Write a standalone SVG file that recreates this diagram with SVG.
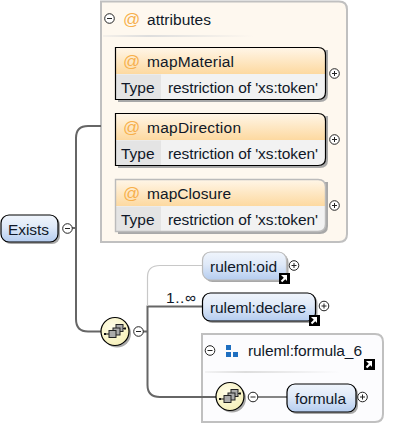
<svg xmlns="http://www.w3.org/2000/svg" xmlns:xlink="http://www.w3.org/1999/xlink" width="400" height="424" viewBox="0 0 400 424">
<style>
text{font-family:"Liberation Sans",Arial,sans-serif;font-size:15.500px;fill:#101828}
.conn{fill:none;stroke:#666;stroke-width:2}
.thin{fill:none;stroke:#666;stroke-width:1.600}
.opt{fill:none;stroke:#c8c8c8;stroke-width:1.200}
.sign{fill:#fff;stroke:#222;stroke-width:1}
.signl{stroke:#222;stroke-width:1;fill:none}
.at{fill:#f7b04c;font-size:17px}
.shadow{fill:#a8a8a8}
.blue{fill:url(#b);stroke:#000;stroke-width:1.200}
.bluel{fill:url(#b);stroke:#bbb;stroke-width:1.200}
.hdr{fill:url(#o)}
.row{fill:#f2f2f2}
.typ{fill:#e4e4e4}
.outline{fill:none;stroke:#000;stroke-width:1.200}
.outlinel{fill:none;stroke:#bbb;stroke-width:1.400}
.comp{fill:url(#y);stroke:#000;stroke-width:1.200}
.sq{fill:#aaa;stroke:#222;stroke-width:1}
.panel{fill:#fef8ef;stroke:#c0c0c0;stroke-width:2}
.panel2{fill:#fcfcfe;stroke:#c0c0c0;stroke-width:2}
</style>
<defs>
<linearGradient id="b" x1="0" y1="0" x2="0" y2="1"><stop offset="0" stop-color="#f0f5fc"/><stop offset="0.450" stop-color="#dfe9f8"/><stop offset="1" stop-color="#b4ccef"/></linearGradient>
<linearGradient id="o" x1="0" y1="0" x2="0" y2="1"><stop offset="0" stop-color="#fff6e8"/><stop offset="1" stop-color="#fdd9a0"/></linearGradient>
<radialGradient id="y" cx="0.400" cy="0.350" r="0.700"><stop offset="0" stop-color="#fffde8"/><stop offset="1" stop-color="#f5efb8"/></radialGradient>
<linearGradient id="sep" x1="0" y1="0" x2="1" y2="0"><stop offset="0" stop-color="#ddd" stop-opacity="0.300"/><stop offset="0.300" stop-color="#ddd"/><stop offset="1" stop-color="#ddd" stop-opacity="0"/></linearGradient>
<g id="plus"><circle class="sign" r="4.800"/><path class="signl" d="M-2.500 0H2.500M0 -2.500V2.500"/></g>
<g id="minus"><circle class="sign" r="4.800"/><path class="signl" d="M-2.500 0H2.500"/></g>
<g id="jump"><rect x="0" y="0" width="11" height="11" fill="#000"/><path d="M2 2H8V8L6.300 6.300L3.200 9.200L1.800 7.800L4.800 4.700Z" fill="#fff"/></g>
<g id="seq">
<circle cx="2" cy="2" r="14" class="shadow"/>
<circle r="14" class="comp"/>
<path d="M-10 2.500H-5M7 -3H10" stroke="#111" fill="none" stroke-width="1"/>
<rect x="1" y="-7" width="7" height="7" class="sq"/>
<rect x="-2" y="-3.500" width="7" height="7" class="sq"/>
<rect x="-6" y="-1" width="7" height="7" class="sq"/>
<rect x="-11" y="1.500" width="2" height="2" fill="#111"/>
<rect x="9" y="-4" width="2" height="2" fill="#111"/>
</g>
</defs>

<g id="attributes">
<path class="panel" d="M101 1.500H339Q347 1.500 347 9.500V234Q347 242 339 242H101Z"/>
<rect x="103" y="35" width="150" height="2" fill="url(#sep)"/>
<use xlink:href="#minus" x="109.500" y="18.500"/>
<text class="at" x="123" y="25">@</text>
<text x="147" y="25" textLength="64">attributes</text>
</g>

<g id="ruleml-formula_6">
<path class="panel2" d="M202 334H375Q383 334 383 342V414Q383 422 375 422H202Z"/>
<rect x="205" y="371" width="135" height="2" fill="url(#sep)"/>
<use xlink:href="#minus" x="210" y="350.500"/>
<path d="M226 345h5v5h-5zM226 352h5v5h-5zM233 352h5v5h-5z" fill="#1f6fc0"/>
<text x="248" y="356" textLength="114">ruleml:formula_6</text>
<use xlink:href="#jump" x="364" y="359"/>
</g>

<g id="connectors">
<path class="conn" d="M72 228H76M101 126H88Q76 126 76 138V319Q76 331.500 88 331.500H102"/>
<path class="conn" d="M143 331.500H147.500M202 306.500H147.500V385Q147.500 397 160 397H216"/>
<path class="opt" d="M147.500 306V277Q147.500 265.500 160 265.500H202"/>
<path class="thin" d="M258 397H287"/>
</g>

<g id="mapMaterial">
<path class="shadow" d="M118 50H328V94Q328 102 320 102H118Z"/>
<path class="row" d="M115.500 74H325.500V92Q325.500 99.500 318 99.500H115.500Z"/>
<path class="hdr" d="M115.500 47.500H318Q325.500 47.500 325.500 55V74H115.500Z"/>
<rect class="typ" x="116" y="74.500" width="45" height="25"/>
<path class="outline" d="M115.500 47.500H318Q325.500 47.500 325.500 55V92Q325.500 99.500 318 99.500H115.500Z"/>
<text class="at" x="123" y="67">@</text>
<text x="147" y="67" textLength="87">mapMaterial</text>
<text x="121" y="93">Type</text>
<text x="168" y="93" textLength="150">restriction of 'xs:token'</text>
<use xlink:href="#plus" x="334.500" y="73.500"/>
</g>

<g id="mapDirection">
<path class="shadow" d="M118 116H328V160Q328 168 320 168H118Z"/>
<path class="row" d="M115.500 140H325.500V158Q325.500 165.500 318 165.500H115.500Z"/>
<path class="hdr" d="M115.500 113.500H318Q325.500 113.500 325.500 121V140H115.500Z"/>
<rect class="typ" x="116" y="140.500" width="45" height="25"/>
<path class="outline" d="M115.500 113.500H318Q325.500 113.500 325.500 121V158Q325.500 165.500 318 165.500H115.500Z"/>
<text class="at" x="123" y="133">@</text>
<text x="147" y="133" textLength="94">mapDirection</text>
<text x="121" y="159">Type</text>
<text x="168" y="159" textLength="150">restriction of 'xs:token'</text>
<use xlink:href="#plus" x="334.500" y="139.500"/>
</g>

<g id="mapClosure">
<path class="shadow" d="M118 182H328V226Q328 234 320 234H118Z"/>
<path class="row" d="M115.500 206H325.500V224Q325.500 231.500 318 231.500H115.500Z"/>
<path class="hdr" d="M115.500 179.500H318Q325.500 179.500 325.500 187V206H115.500Z"/>
<rect class="typ" x="116" y="206.500" width="45" height="25"/>
<path class="outlinel" d="M115.500 179.500H318Q325.500 179.500 325.500 187V224Q325.500 231.500 318 231.500H115.500Z"/>
<text class="at" x="123" y="199">@</text>
<text x="147" y="199" textLength="84">mapClosure</text>
<text x="121" y="225">Type</text>
<text x="168" y="225" textLength="150">restriction of 'xs:token'</text>
<use xlink:href="#plus" x="334.500" y="205.500"/>
</g>

<g id="Exists">
<rect class="shadow" x="3" y="217" width="57" height="27" rx="8"/>
<rect class="blue" x="1" y="215" width="57" height="27" rx="8"/>
<text x="8" y="235" textLength="41">Exists</text>
<use xlink:href="#minus" x="67.500" y="228.500"/>
</g>

<g id="sequence1">
<use xlink:href="#seq" x="115" y="331.500"/>
<use xlink:href="#minus" x="138.500" y="331.500"/>
</g>

<g id="ruleml-oid">
<rect class="shadow" x="204.500" y="254" width="84" height="28" rx="8"/>
<rect class="bluel" x="202.500" y="252" width="84" height="28" rx="8"/>
<text x="210" y="272" textLength="67">ruleml:oid</text>
<use xlink:href="#jump" x="279" y="273"/>
<use xlink:href="#plus" x="294" y="265.500"/>
</g>

<g id="ruleml-declare">
<text x="166" y="303" textLength="30">1..∞</text>
<rect class="shadow" x="204.500" y="295" width="113" height="28" rx="8"/>
<rect class="blue" x="202.500" y="293" width="113" height="28" rx="8"/>
<text x="210" y="313" textLength="96">ruleml:declare</text>
<use xlink:href="#jump" x="309" y="315"/>
<use xlink:href="#plus" x="324" y="306"/>
</g>

<g id="sequence2">
<use xlink:href="#seq" x="230" y="396.500"/>
<use xlink:href="#minus" x="253" y="397"/>
</g>

<g id="formula">
<rect class="shadow" x="289" y="386" width="69" height="28" rx="8"/>
<rect class="blue" x="287" y="384" width="69" height="28" rx="8"/>
<text x="295" y="404" textLength="51">formula</text>
<use xlink:href="#plus" x="362.500" y="397"/>
</g>
</svg>
